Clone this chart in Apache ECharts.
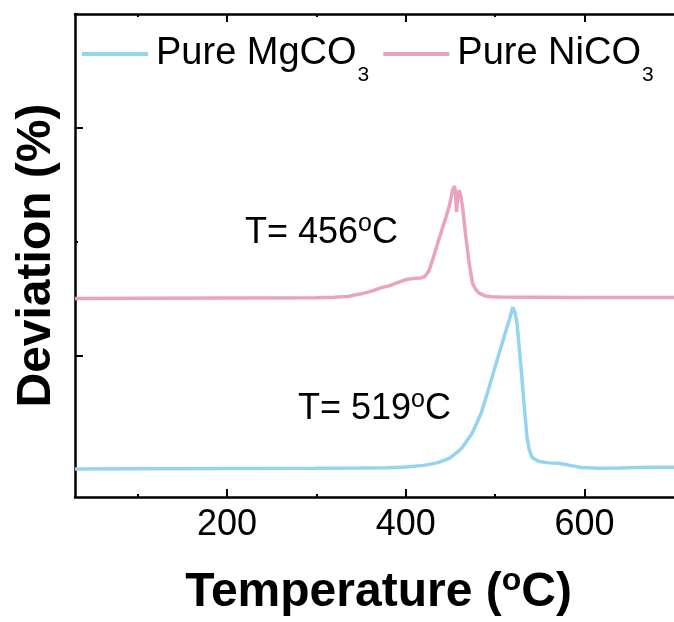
<!DOCTYPE html>
<html><head><meta charset="utf-8">
<script src="https://cdn.jsdelivr.net/npm/echarts@6/dist/echarts.min.js"></script>
<style>html,body{margin:0;padding:0;background:#fff}#c{width:674px;height:622px}</style>
</head><body><div id="c"></div>
<script>
// ---- data ----
const seriesNames = ['Pure MgCO3', 'Pure NiCO3'];
const mgTemp = [30, 100, 200, 300, 350, 380, 400, 420, 435, 448.6, 458, 463.1, 474.2, 484.3, 493.2, 502.1, 512.2, 516.5, 519.5, 522, 524.4, 528.9, 532.2, 535.6, 538, 541.2, 549, 560, 571.3, 585, 596.9, 615.9, 640, 670, 700];
const mgDev  = [0.500, 0.501, 0.502, 0.503, 0.504, 0.506, 0.509, 0.516, 0.527, 0.547, 0.575, 0.595, 0.657, 0.745, 0.859, 0.978, 1.110, 1.165, 1.211, 1.19, 1.141, 0.947, 0.789, 0.639, 0.585, 0.551, 0.533, 0.527, 0.525, 0.515, 0.507, 0.503, 0.505, 0.508, 0.508];
const niTemp = [30, 100, 200, 300, 320, 335, 350, 362, 372, 382, 390, 396, 402, 410, 417, 421, 426, 430, 437.5, 445, 449, 452.3, 454.2, 455.5, 456.8, 458, 459.8, 461.5, 463.4, 467.2, 470.9, 474.6, 478, 482, 488, 495, 505, 550, 600, 650, 700];
const niDev  = [1.250, 1.251, 1.252, 1.253, 1.255, 1.258, 1.270, 1.282, 1.296, 1.306, 1.318, 1.327, 1.334, 1.338, 1.340, 1.345, 1.372, 1.42, 1.515, 1.608, 1.66, 1.726, 1.743, 1.72, 1.63, 1.69, 1.726, 1.70, 1.655, 1.52, 1.405, 1.317, 1.29, 1.273, 1.262, 1.257, 1.256, 1.255, 1.254, 1.254, 1.254];
const xMajorTicks = [200, 400, 600];
const xMinorTicks = [100, 300, 500];
const yMajorTicks = [1, 2];
const yMinorTicks = [0.5, 1.5, 2.5];
const peakTemps = [456, 519];
const xRange = [30, 700];
const yRange = [0.377, 2.5];

const FF = "'Liberation Sans', Arial, Helvetica, sans-serif";
const colors = ['#95d4ef', '#e9a3c0'];
const chart = echarts.init(document.getElementById('c'), null, {renderer: 'canvas'});

function zip(a, b) { return a.map((v, i) => [v, b[i]]); }
const lineW = 2.5;
function xAx(pos, ticks, len, showLine, extra) {
  return Object.assign({
    type: 'value', min: xRange[0], max: xRange[1], position: pos,
    axisLine: {show: showLine, onZero: false, lineStyle: {color: '#000', width: lineW}},
    axisTick: {show: true, inside: true, length: len, customValues: ticks, lineStyle: {color: '#000', width: 2}},
    axisLabel: {show: false},
    splitLine: {show: false}
  }, extra || {});
}
function yAx(ticks, len, showLine, extra) {
  return Object.assign({
    type: 'value', min: yRange[0], max: yRange[1], position: 'left',
    axisLine: {show: showLine, onZero: false, lineStyle: {color: '#000', width: lineW}},
    axisTick: {show: true, inside: true, length: len, customValues: ticks, lineStyle: {color: '#000', width: 2}},
    axisLabel: {show: false},
    splitLine: {show: false}
  }, extra || {});
}
const supRich = {
  n: {fontSize: 36, lineHeight: 36, fontFamily: FF, fill: '#000'},
  o: {fontSize: 25, lineHeight: 18, height: 18, fontFamily: FF, fill: '#000', verticalAlign: 'top'}
};

const option = {
  backgroundColor: '#fff',
  animation: false,
  color: colors,
  grid: {left: 75, top: 14, width: 602, bottom: 125, containLabel: false},
  legend: {
    left: 77, top: 30, itemWidth: 66, itemHeight: 4, icon: 'rect', itemGap: 14,
    data: seriesNames,
    formatter: function (n) { return '{m|' + n.slice(0, -1) + '}{s|' + n.slice(-1) + '}'; },
    textStyle: {
      color: '#000', fontFamily: FF, fontSize: 38,
      rich: {
        m: {fontSize: 38, lineHeight: 38, fontFamily: FF, color: '#000', padding: [0, 0, 0, 3]},
        s: {fontSize: 21, lineHeight: 8, fontFamily: FF, color: '#000', verticalAlign: 'top', padding: [30, 0, 0, 1]}
      }
    }
  },
  xAxis: [
    xAx('bottom', xMajorTicks, 8, true, {
      axisLabel: {show: true, customValues: xMajorTicks, fontSize: 36, color: '#000', fontFamily: FF, margin: 10},
      name: '{n|Temperature (}{o|o}{n|C)}',
      nameLocation: 'middle', nameGap: 72,
      nameTextStyle: {
        color: '#000', fontFamily: FF, fontSize: 48, fontWeight: 'bold', padding: [0, 0, 0, 8],
        rich: {
          n: {fontSize: 48, lineHeight: 48, fontWeight: 'bold', fontFamily: FF, color: '#000'},
          o: {fontSize: 32, lineHeight: 24, height: 24, fontWeight: 'bold', fontFamily: FF, color: '#000', verticalAlign: 'top'}
        }
      }
    }),
    xAx('bottom', xMinorTicks, 3, false),
    xAx('top', xMajorTicks, 8, true),
    xAx('top', xMinorTicks, 3, false)
  ],
  yAxis: [
    yAx(yMajorTicks, 8, true, {
      name: 'Deviation (%)', nameLocation: 'middle', nameGap: 14, nameRotate: 90,
      nameTextStyle: {color: '#000', fontFamily: FF, fontSize: 48, fontWeight: 'bold'}
    }),
    yAx(yMinorTicks, 3, false)
  ],
  series: [
    {name: seriesNames[0], type: 'line', xAxisIndex: 0, yAxisIndex: 0, showSymbol: false, symbol: 'none',
     data: zip(mgTemp, mgDev), lineStyle: {color: colors[0], width: 3.5}, itemStyle: {color: colors[0]}},
    {name: seriesNames[1], type: 'line', xAxisIndex: 0, yAxisIndex: 0, showSymbol: false, symbol: 'none',
     data: zip(niTemp, niDev), lineStyle: {color: colors[1], width: 3.5}, itemStyle: {color: colors[1]}}
  ],
  graphic: [
    {type: 'text', left: 245, top: 212, silent: true,
     style: {text: '{n|T= ' + peakTemps[0] + '}{o|o}{n|C}', fill: '#000', rich: supRich}},
    {type: 'text', left: 298, top: 388, silent: true,
     style: {text: '{n|T= ' + peakTemps[1] + '}{o|o}{n|C}', fill: '#000', rich: supRich}}
  ]
};
chart.setOption(option);
</script></body></html>
